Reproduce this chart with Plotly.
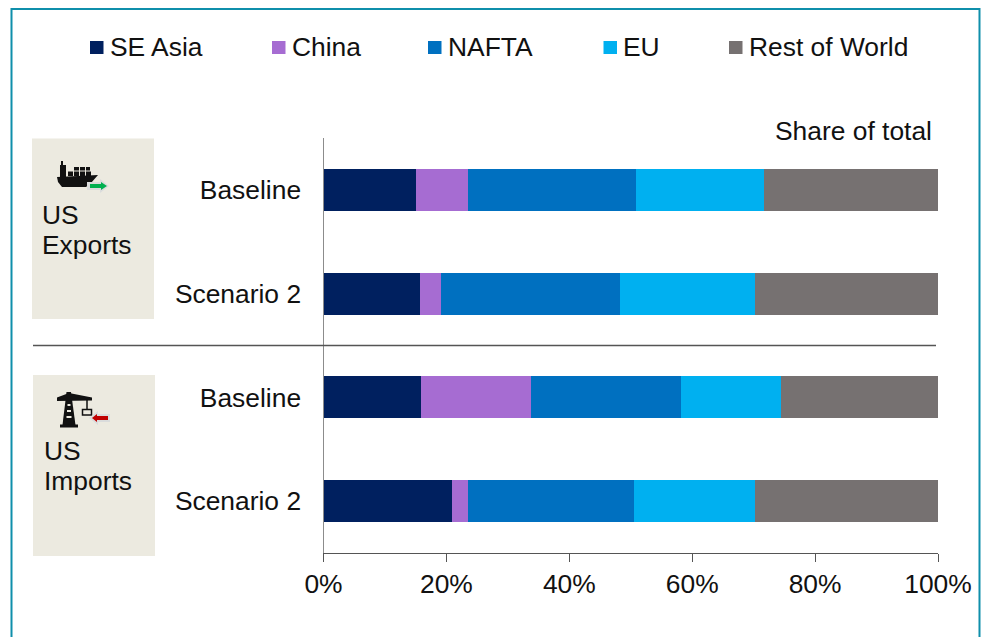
import plotly.graph_objects as go

W, H = 981, 637
FONT = "Liberation Sans"
INK = "#111111"
SIZE = 26.4

groups = ["Baseline", "Scenario 2", "Baseline", "Scenario 2"]
se_asia = [15.1, 15.7, 15.9, 20.9]
china = [8.4, 3.4, 17.9, 2.6]
nafta = [27.3, 29.1, 24.4, 27.0]
eu = [20.9, 22.0, 16.3, 19.7]
rest_of_world = [28.3, 29.8, 25.5, 29.8]

series_names = ["SE Asia", "China", "NAFTA", "EU", "Rest of World"]
series_values = [se_asia, china, nafta, eu, rest_of_world]
series_colors = ["#00205F", "#A66CD2", "#0070C0", "#00B0F0", "#767171"]
axis_ticks = [0, 20, 40, 60, 80, 100]
axis_labels = ["0%", "20%", "40%", "60%", "80%", "100%"]


def px(x):
    return x / W


def py(y):
    return 1 - y / H


def path(points, close=True):
    """SVG path in paper units from a list of pixel points."""
    d = "M" + " L".join(f"{px(x):.5f},{py(y):.5f}" for x, y in points)
    return d + (" Z" if close else "")


def rect(x0, y0, x1, y1, fill=None, line=None, width=0, layer="below"):
    return dict(type="rect", xref="paper", yref="paper", layer=layer,
                x0=px(x0), x1=px(x1), y0=py(y0), y1=py(y1),
                fillcolor=fill or "rgba(0,0,0,0)",
                line=dict(color=line or "rgba(0,0,0,0)", width=width))


def poly(points, fill, layer="above"):
    return dict(type="path", xref="paper", yref="paper", layer=layer,
                path=path(points), fillcolor=fill, line=dict(width=0))


def stroke(points, color="#111111", width=2, layer="above"):
    return dict(type="path", xref="paper", yref="paper", layer=layer,
                path=path(points, close=False), line=dict(color=color, width=width))


def label(x, y, text, anchor="left"):
    return dict(xref="paper", yref="paper", x=px(x), y=py(y), text=text,
                showarrow=False, xanchor=anchor, yanchor="middle", borderpad=0,
                font=dict(family=FONT, size=SIZE, color=INK))


PANEL = "#ECEAE0"
HALO = "#DADCDC"

shapes = [
    # outer frame, open at the bottom of the page
    dict(type="path", xref="paper", yref="paper", layer="below",
         path=path([(11.5, 645), (11.5, 9), (979.5, 9), (979.5, 645)], close=False),
         line=dict(color="#0F8FAB", width=2)),
    # side panels
    rect(32, 138.5, 154, 319, fill=PANEL),
    rect(33, 375, 155, 556, fill=PANEL),
    # divider between exports and imports
    stroke([(33, 345.5), (936, 345.5)], color="#555555", width=1.3),
]

# ship icon with its outbound arrow
shapes += [
    poly([(57, 177), (98, 175), (91, 183), (86, 187), (62, 187), (58, 182)], "#111111"),
    poly([(61, 161), (63, 161), (63, 165), (66, 165), (66, 177), (60, 177), (60, 165), (61, 165)], "#111111"),
    rect(68, 171.5, 73, 176, fill="#111111", layer="above"),
    rect(74, 171.5, 79, 176, fill="#111111", layer="above"),
    rect(80, 171.5, 85, 176, fill="#111111", layer="above"),
    rect(86, 171.5, 91, 176, fill="#111111", layer="above"),
    rect(74, 167, 79, 170.5, fill="#111111", layer="above"),
    rect(80, 167, 85, 170.5, fill="#111111", layer="above"),
    rect(86, 167, 90, 170.5, fill="#111111", layer="above"),
    poly([(87, 182), (100, 182), (100, 179), (109, 186), (100, 193), (100, 190), (87, 190)], HALO),
    poly([(90, 184), (101, 184), (101, 182), (107, 186), (101, 190), (101, 188), (90, 188)], "#00B050"),
]

# crane icon with its inbound arrow
shapes += [
    poly([(66.5, 392), (71, 392), (75.5, 425), (62.5, 425)], "#111111"),
    poly([(57, 397.5), (69, 393), (92, 397.5), (92, 400.5), (57, 401)], "#111111"),
    rect(60, 424.5, 78, 427.5, fill="#111111", layer="above"),
    rect(67.5, 404, 70.5, 406, fill=PANEL, layer="above"),
    rect(67, 410, 71, 412, fill=PANEL, layer="above"),
    rect(66.5, 416, 71.5, 418, fill=PANEL, layer="above"),
    stroke([(87, 399), (87, 409)], width=1.5),
    rect(82.5, 409.5, 91.5, 415, line="#111111", width=1.5, layer="above"),
    poly([(110, 414), (98, 414), (98, 411), (89, 418), (98, 425), (98, 422), (110, 422)], HALO),
    poly([(108, 416), (97, 416), (97, 414), (92, 418), (97, 422), (97, 420), (108, 420)], "#C00000"),
]

annotations = [
    label(932.5, 131, "Share of total", anchor="right"),
    label(40.5, 215, "US"),
    label(40.5, 245, "Exports"),
    label(42.5, 451, "US"),
    label(42.5, 481, "Imports"),
]

# legend row laid out by hand so each entry sits at its own spacing
swatch_left = [90, 272, 428, 603.5, 729]
for name, color, left in zip(series_names, series_colors, swatch_left):
    shapes.append(rect(left, 41, left + 13.5, 54, fill=color))
    annotations.append(label(left + 18.5, 47, name))

fig = go.Figure()
for name, values, color in zip(series_names, series_values, series_colors):
    fig.add_trace(go.Bar(name=name, y=list(range(len(groups))), x=values,
                         orientation="h", marker=dict(color=color, line=dict(width=0)),
                         showlegend=False))

fig.update_layout(
    width=W, height=H, barmode="stack", bargap=0.594,
    margin=dict(l=0, r=0, t=0, b=0),
    paper_bgcolor="white", plot_bgcolor="white",
    font=dict(family=FONT, size=SIZE, color=INK),
    shapes=shapes, annotations=annotations,
    xaxis=dict(domain=[px(323.5), px(938)], range=[0, 100], automargin=False,
               tickvals=axis_ticks, ticktext=axis_labels,
               ticks="outside", ticklen=8, tickwidth=1.3,
               tickcolor="#555555", showline=True, linecolor="#555555", linewidth=1.3,
               showgrid=False, zeroline=False, tickfont=dict(size=SIZE, color=INK)),
    yaxis=dict(domain=[py(552.6), py(138.4)], range=[3.5, -0.5], automargin=False,
               tickvals=list(range(len(groups))), ticktext=groups, ticks="",
               ticklabelstandoff=16, showline=True, linecolor="#8c8c8c", linewidth=1.3,
               showgrid=False, zeroline=False, tickfont=dict(size=SIZE, color=INK)),
)

fig.write_html("out.html")
